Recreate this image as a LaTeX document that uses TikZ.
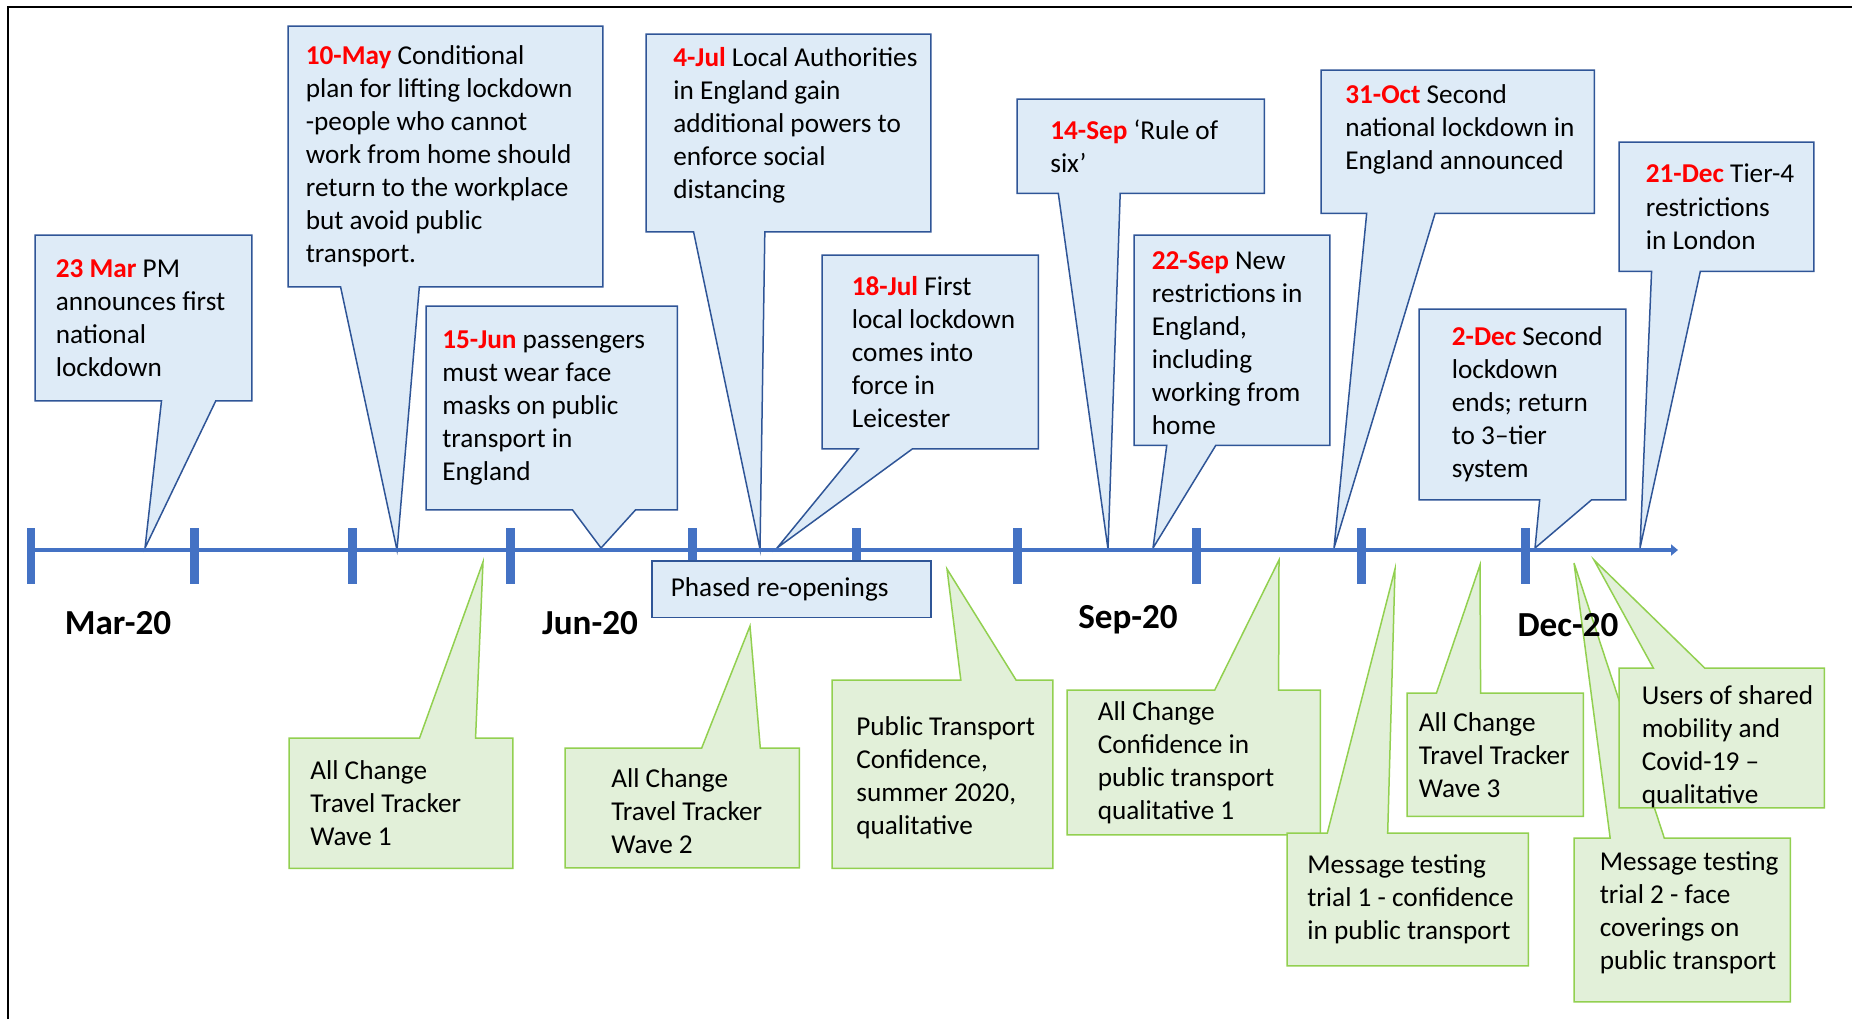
\documentclass[tikz,border=0pt]{standalone}
\usepackage{fontspec}
\setmainfont{Carlito}
\usepackage{xcolor}
\usetikzlibrary{calc,positioning,arrows.meta}
\definecolor{callblue}{HTML}{DEEBF7}
\definecolor{blueedge}{HTML}{2F5597}
\definecolor{callgreen}{HTML}{E2F0D9}
\definecolor{greenedge}{HTML}{92D050}
\definecolor{axisblue}{HTML}{4472C4}

\newcommand{\dt}[1]{\textcolor{red}{\textbf{#1}}}
% box with its pointer below (to the axis) or above
\newcommand{\downcall}[5]{%
  \path[#1] (#2.north west) -- (#2.north east) -- (#2.south east)
    -- ($(#2.south west)!#4!(#2.south east)$) -- (#5)
    -- ($(#2.south west)!#3!(#2.south east)$) -- (#2.south west) -- cycle;}
\newcommand{\upcall}[5]{%
  \path[#1] (#2.north west) -- ($(#2.north west)!#3!(#2.north east)$) -- (#5)
    -- ($(#2.north west)!#4!(#2.north east)$) -- (#2.north east)
    -- (#2.south east) -- (#2.south west) -- cycle;}

\begin{document}
\begin{tikzpicture}[x=0.02cm, y=-0.02cm,
  callbox/.style={anchor=north west, inner sep=0pt, outer sep=0pt},
  bluecall/.style={fill=callblue, draw=blueedge, line width=0.03cm},
  greencall/.style={fill=callgreen, draw=greenedge, line width=0.03cm},
  txt/.style={align=left, inner sep=0pt, font=\fontsize{15.5}{18.8}\selectfont},
  month/.style={font=\fontsize{20}{24}\selectfont\bfseries},
  tickmark/.style={draw=axisblue, line width=0.18cm}]
\useasboundingbox (0,0) rectangle (1852,1019);

% events above the line
\node[callbox, minimum width=4.34cm, minimum height=3.32cm] (mar23) at (35,235) {};
\coordinate (pmar23) at (145,548);
\downcall{bluecall}{mar23}{0.583}{0.833}{pmar23}
\node[txt, right=0.41cm of mar23.west] {\dt{23 Mar} PM\\announces first\\national\\lockdown};

\node[callbox, minimum width=6.30cm, minimum height=5.22cm] (may10) at (288,26) {};
\coordinate (pmay10) at (397,550);
\downcall{bluecall}{may10}{0.167}{0.417}{pmay10}
\node[txt, right=0.35cm of may10.west] {\dt{10-May} Conditional\\plan for lifting lockdown\\-people who cannot\\work from home should\\return to the workplace\\but avoid public\\transport.};

\node[callbox, minimum width=5.03cm, minimum height=4.08cm] (jun15) at (426,306) {};
\coordinate (pjun15) at (601,548);
\downcall{bluecall}{jun15}{0.583}{0.833}{pjun15}
\node[txt, right=0.32cm of jun15.west] {\dt{15-Jun} passengers\\must wear face\\masks on public\\transport in\\England};

\node[callbox, minimum width=5.70cm, minimum height=3.96cm] (jul4) at (646,34) {};
\coordinate (pjul4) at (760,549);
\downcall{bluecall}{jul4}{0.167}{0.417}{pjul4}
\node[txt, right=0.54cm of jul4.west, yshift=0.16cm] {\dt{4-Jul} Local Authorities\\in England gain\\additional powers to\\enforce social\\distancing};

\node[callbox, minimum width=4.33cm, minimum height=3.88cm] (jul18) at (822,255) {};
\coordinate (pjul18) at (777,548);
\downcall{bluecall}{jul18}{0.167}{0.417}{pjul18}
\node[txt, right=0.59cm of jul18.west] {\dt{18-Jul} First\\local lockdown\\comes into\\force in\\Leicester};

\node[callbox, minimum width=4.95cm, minimum height=1.89cm] (sep14) at (1017,99) {};
\coordinate (psep14) at (1108,549);
\downcall{bluecall}{sep14}{0.167}{0.417}{psep14}
\node[txt, right=0.66cm of sep14.west] {\dt{14-Sep} ‘Rule of\\six’};

\node[callbox, minimum width=3.92cm, minimum height=4.21cm] (sep22) at (1134,235) {};
\coordinate (psep22) at (1153,548);
\downcall{bluecall}{sep22}{0.167}{0.417}{psep22}
\node[txt, right=0.35cm of sep22.west, yshift=-0.06cm] {\dt{22-Sep} New\\restrictions in\\England,\\including\\working from\\home};

\node[callbox, minimum width=5.47cm, minimum height=2.87cm] (oct31) at (1321,70) {};
\coordinate (poct31) at (1334,548);
\downcall{bluecall}{oct31}{0.167}{0.417}{poct31}
\node[txt, right=0.48cm of oct31.west, yshift=0.24cm] {\dt{31-Oct} Second\\national lockdown in\\England announced};

\node[callbox, minimum width=3.90cm, minimum height=2.59cm] (dec21) at (1619,142) {};
\coordinate (pdec21) at (1640,548);
\downcall{bluecall}{dec21}{0.167}{0.417}{pdec21}
\node[txt, right=0.53cm of dec21.west] {\dt{21-Dec} Tier-4\\restrictions\\in London};

\node[callbox, minimum width=4.14cm, minimum height=3.82cm] (dec2) at (1419,309) {};
\coordinate (pdec2) at (1535,548);
\downcall{bluecall}{dec2}{0.583}{0.833}{pdec2}
\node[txt, right=0.65cm of dec2.west] {\dt{2-Dec} Second\\lockdown\\ends; return\\to 3--tier\\system};

% time line
\coordinate (axstart) at (31,550);
\coordinate (axend) at (1678,550);
\draw[axisblue, line width=0.08cm, -{Triangle[length=0.14cm, width=0.22cm]}] (axstart) -- (axend);
\foreach \tx in {31,194,352,510,692,856,1017,1196,1361,1525}
  \draw[tickmark] (\tx,528) -- (\tx,584);

\node[callbox, bluecall, minimum width=5.58cm, minimum height=1.13cm] (phased) at (652,561) {};
\node[txt, right=0.37cm of phased.west] {Phased re-openings};

% studies below the line
\node[callbox, minimum width=4.48cm, minimum height=2.61cm] (wave1) at (289,738) {};
\coordinate (pwave1) at (483,562);
\upcall{greencall}{wave1}{0.583}{0.833}{pwave1}
\node[txt, right=0.42cm of wave1.west] {All Change\\Travel Tracker\\Wave 1};

\node[callbox, minimum width=4.69cm, minimum height=2.40cm] (wave2) at (565,748) {};
\coordinate (pwave2) at (750,626);
\upcall{greencall}{wave2}{0.583}{0.833}{pwave2}
\node[txt, right=0.92cm of wave2.west, yshift=-0.07cm] {All Change\\Travel Tracker\\Wave 2};

\node[callbox, minimum width=4.42cm, minimum height=3.77cm] (ptc) at (832,680) {};
\coordinate (pptc) at (947,569);
\upcall{greencall}{ptc}{0.583}{0.833}{pptc}
\node[txt, right=0.48cm of ptc.west, yshift=-0.07cm] {Public Transport\\Confidence,\\summer 2020,\\qualitative};

\node[callbox, minimum width=5.07cm, minimum height=2.90cm] (conf1) at (1067,690) {};
\coordinate (pconf1) at (1279,560);
\upcall{greencall}{conf1}{0.583}{0.835}{pconf1}
\node[txt, right=0.61cm of conf1.west] {All Change\\Confidence in\\public transport\\qualitative 1};

\node[callbox, minimum width=4.83cm, minimum height=2.66cm] (msg1) at (1287,833) {};
\coordinate (pmsg1) at (1395,569);
\upcall{greencall}{msg1}{0.167}{0.417}{pmsg1}
\node[txt, right=0.40cm of msg1.west] {Message testing\\trial 1 - confidence\\in public transport};

\node[callbox, minimum width=3.53cm, minimum height=2.47cm] (wave3) at (1407,693) {};
\coordinate (pwave3) at (1480,565);
\upcall{greencall}{wave3}{0.167}{0.417}{pwave3}
\node[txt, right=0.23cm of wave3.west] {All Change\\Travel Tracker\\Wave 3};

\node[callbox, minimum width=4.33cm, minimum height=3.28cm] (msg2) at (1574,838) {};
\coordinate (pmsg2) at (1574,563);
\upcall{greencall}{msg2}{0.167}{0.417}{pmsg2}
\node[txt, right=0.51cm of msg2.west, yshift=0.15cm] {Message testing\\trial 2 - face\\coverings on\\public transport};

\node[callbox, minimum width=4.11cm, minimum height=2.80cm] (shared) at (1619,668) {};
\coordinate (pshared) at (1594,560);
\upcall{greencall}{shared}{0.167}{0.417}{pshared}
\node[txt, right=0.45cm of shared.west, yshift=-0.17cm] {Users of shared\\mobility and\\Covid-19 --\\qualitative};

% months
\node[month] (lmar) at (118,623) {Mar-20};
\node[month] (ljun) at (590,623) {Jun-20};
\node[month] (lsep) at (1128,620) {Sep-20};
\node[month] (ldec) at (1568,625) {Dec-20};

% frame
\draw[line width=0.04cm] (8,1019) -- (8,7) -- (1852,7);
\end{tikzpicture}
\end{document}
